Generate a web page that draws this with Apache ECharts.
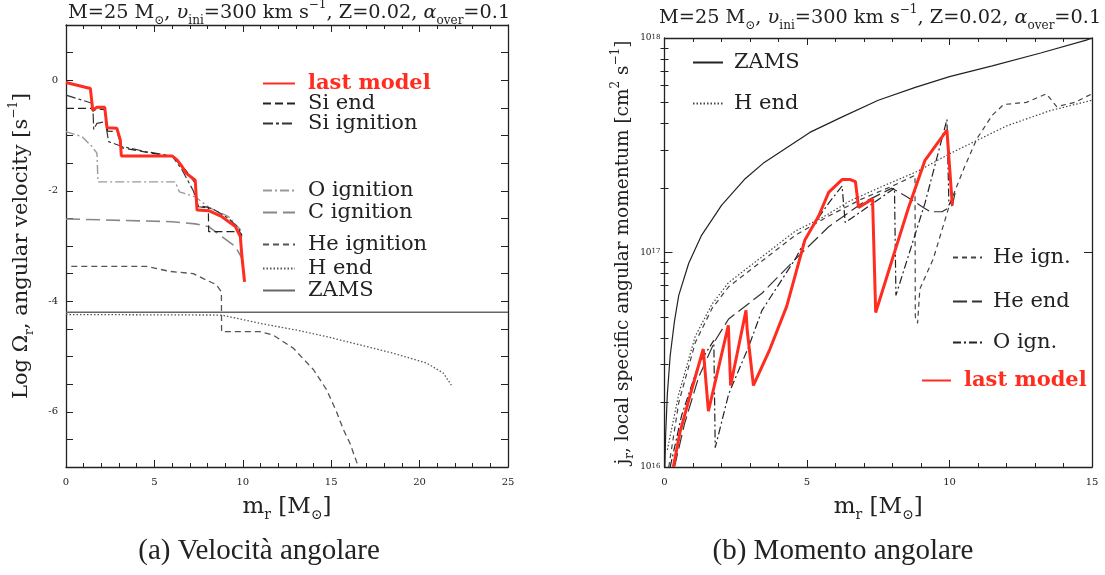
<!DOCTYPE html>
<html><head><meta charset="utf-8">
<script src="https://cdn.jsdelivr.net/npm/echarts@6/dist/echarts.min.js"></script>
<style>html,body{margin:0;padding:0;background:#fff}#c{width:1105px;height:575px}</style>
</head><body><div id="c"></div>
<script>
// ---------- Panel (a): log Omega_r vs m_r ----------
const aLastModel = [[0,-0.04],[1.38,-0.15],[1.51,-0.54],[1.75,-0.49],[2.19,-0.49],[2.32,-0.86],[2.88,-0.87],[3.07,-1.08],[3.13,-1.37],[6.0,-1.37],[6.28,-1.44],[6.56,-1.56],[6.79,-1.68],[7.31,-1.81],[7.41,-2.35],[8.07,-2.36],[8.82,-2.47],[9.58,-2.65],[9.86,-2.83],[9.95,-3.19],[10.1,-3.65]];
const aSiEnd = [[0,-0.51],[1.45,-0.51],[1.52,-0.56],[1.75,-0.52],[2.2,-0.53],[2.36,-0.92],[2.9,-0.93],[3.12,-1.22],[4.5,-1.3],[6.0,-1.38],[6.4,-1.5],[6.8,-1.64],[7.3,-1.86],[7.42,-2.27],[8.05,-2.3],[8.07,-2.74],[9.8,-2.74],[9.95,-2.8]];
const aSiIgn = [[0,-0.27],[1.51,-0.42],[1.57,-0.89],[1.75,-0.78],[2.22,-0.75],[2.41,-1.11],[3.17,-1.2],[4.49,-1.29],[6.0,-1.37],[6.56,-1.62],[7.2,-2.0],[7.5,-2.29],[8.26,-2.32],[9.2,-2.5],[9.77,-2.68],[9.95,-2.83]];
const aOIgn = [[0,-0.93],[0.9,-1.02],[1.47,-1.2],[1.75,-1.32],[1.81,-1.84],[6.18,-1.84],[6.41,-2.02],[7.31,-2.11],[8.07,-2.3],[9.2,-2.47],[9.86,-2.7],[9.95,-2.83]];
const aCIgn = [[0,-2.51],[6.0,-2.56],[7.31,-2.6],[8.07,-2.65],[8.82,-2.83],[9.58,-3.01],[9.95,-3.22]];
const aHeIgn = [[0.3,-3.37],[4.56,-3.37],[5.88,-3.46],[7.2,-3.5],[7.96,-3.62],[8.5,-3.7],[8.79,-3.83],[8.8,-4.55],[10.97,-4.55],[11.7,-4.61],[12.86,-4.85],[14.0,-5.24],[14.74,-5.6],[15.3,-6.0],[15.7,-6.33],[16.06,-6.57],[16.53,-6.99]];
const aHEnd = [[0,-4.24],[8.8,-4.25],[10.97,-4.4],[13.0,-4.52],[14.74,-4.64],[16.5,-4.78],[18.5,-4.94],[20.4,-5.12],[21.34,-5.3],[21.8,-5.52]];
const aZams = [[0,-4.2],[25,-4.2]];

// ---------- Panel (b): j_r (log10 of cm^2 s^-1) vs m_r ----------
const bZamsLog = [[0.01,15.98],[0.04,16.15],[0.1,16.34],[0.2,16.52],[0.35,16.68],[0.5,16.8],[0.85,16.95],[1.3,17.08],[2.0,17.22],[2.8,17.34],[3.5,17.42],[4.3,17.49],[5.1,17.56],[6.2,17.63],[7.5,17.71],[8.8,17.77],[10.0,17.82],[11.5,17.87],[13.2,17.93],[14.8,17.99],[15.0,18.0]];
const bHEndLog = [[0.1,16.08],[0.5,16.34],[1.08,16.61],[1.67,16.76],[2.25,16.86],[3.42,16.98],[4.59,17.1],[5.5,17.16],[6.5,17.24],[7.5,17.3],[8.9,17.38],[10.0,17.46],[12.0,17.59],[13.5,17.66],[15.0,17.71]];
const bHeIgnLog = [[0.15,16.0],[0.5,16.3],[1.08,16.58],[1.67,16.74],[2.25,16.84],[3.42,16.96],[4.59,17.08],[5.76,17.17],[6.93,17.25],[8.0,17.31],[8.79,17.36],[8.8,16.7],[8.88,16.67],[8.96,16.83],[9.43,16.97],[10.02,17.23],[10.5,17.39],[10.96,17.53],[11.5,17.64],[11.9,17.69],[12.7,17.7],[13.4,17.74],[13.76,17.68],[14.4,17.7],[15.0,17.74]];
const bHeEndLog = [[0.35,16.0],[0.7,16.2],[1.2,16.42],[1.78,16.59],[2.25,16.69],[3.42,16.81],[4.6,16.97],[5.76,17.12],[6.93,17.23],[7.98,17.3],[8.5,17.26],[9.08,17.21],[9.32,17.19],[9.74,17.19],[10.1,17.22],[10.2,17.28]];
const bOIgnLog = [[0.2,16.0],[0.6,16.24],[1.2,16.48],[1.73,16.59],[1.78,16.09],[2.25,16.34],[2.95,16.56],[3.42,16.73],[4.59,16.97],[5.18,17.12],[5.76,17.23],[6.23,17.31],[6.34,17.14],[7.0,17.2],[8.07,17.3],[8.12,16.8],[9.14,17.23],[9.91,17.62],[9.98,17.22],[10.1,17.25]];
const bLastModelLog = [[0.31,16.0],[0.54,16.16],[0.89,16.33],[1.36,16.55],[1.54,16.26],[2.24,16.66],[2.32,16.38],[2.86,16.73],[2.9,16.64],[3.12,16.38],[3.7,16.55],[4.29,16.75],[4.93,17.06],[5.41,17.17],[5.76,17.28],[6.23,17.34],[6.52,17.34],[6.7,17.33],[6.81,17.21],[7.3,17.25],[7.41,16.72],[7.95,16.95],[8.54,17.2],[9.14,17.43],[9.91,17.57],[10.1,17.22]];

const bTickDecades = [1e16, 1e17, 1e18];
const bTickMinor = [2e16,3e16,4e16,5e16,6e16,7e16,8e16,9e16,2e17,3e17,4e17,5e17,6e17,7e17,8e17,9e17];

const toLin = arr => arr.map(p => [p[0], Math.pow(10, p[1])]);

const SERIF = 'DejaVu Serif';
const RED = '#ff2d1f';
const richSub = {
  sub: {fontFamily: SERIF, fontSize: 12, lineHeight: 12, verticalAlign: 'bottom', color: '#222'},
  sup: {fontFamily: SERIF, fontSize: 12, lineHeight: 12, verticalAlign: 'top', color: '#222'},
  it: {fontFamily: SERIF, fontStyle: 'italic', color: '#222'}
};

function frameAxis(gridIndex, pos, extra) {
  return Object.assign({
    gridIndex, position: pos, type: 'value',
    axisLine: {show: true, onZero: false, lineStyle: {color: '#222', width: 1.3}},
    axisTick: {show: true, inside: true, length: 7, lineStyle: {color: '#222'}},
    axisLabel: {show: false},
    splitLine: {show: false}
  }, extra);
}

const chart = echarts.init(document.getElementById('c'), null, {renderer: 'canvas'});

const legendBase = (name, left, top, gap, width, red) => ({
  data: [name], left, top, orient: 'vertical', padding: 0, itemGap: 0,
  itemWidth: width, itemHeight: 14, selectedMode: false,
  itemStyle: {opacity: 0},
  formatter: n => n.replace(' (b)', ''),
  textStyle: {fontFamily: SERIF, fontSize: 21, color: red ? RED : '#222', fontWeight: red ? 'bold' : 'normal', padding: [0,0,0,gap]}
});

const titleText = 'M=25 M{sub|⊙}, {it|υ}{sub|ini}=300 km s{sup|−1}, Z=0.02, {it|α}{sub|over}=0.1';

chart.setOption({
  animation: false,
  backgroundColor: '#fff',
  title: [
    {text: titleText, left: 68, top: -1, padding: 0,
     textStyle: {fontFamily: SERIF, fontSize: 19.3, fontWeight: 'normal', color: '#222', lineHeight: 28, rich: richSub}},
    {text: titleText, left: 659, top: 4, padding: 0,
     textStyle: {fontFamily: SERIF, fontSize: 19.3, fontWeight: 'normal', color: '#222', lineHeight: 28, rich: richSub}}
  ],
  graphic: [
    {type: 'text', style: {x: 259, y: 551, text: '(a) Velocità angolare', fontFamily: 'Liberation Serif', fontSize: 29, fill: '#222', textAlign: 'center', textVerticalAlign: 'middle'}},
    {type: 'text', style: {x: 843, y: 551, text: '(b) Momento angolare', fontFamily: 'Liberation Serif', fontSize: 29, fill: '#222', textAlign: 'center', textVerticalAlign: 'middle'}}
  ],
  legend: [
    legendBase('last model', 262, 73, 8, 32, true),
    legendBase('Si end', 262, 93, 8, 32),
    legendBase('Si ignition', 262, 113, 8, 32),
    legendBase('O ignition', 262, 180, 8, 32),
    legendBase('C ignition', 262, 202, 8, 32),
    legendBase('He ignition', 262, 234, 8, 32),
    legendBase('H end', 262, 258, 8, 32),
    legendBase('ZAMS', 262, 280, 8, 32),
    legendBase('ZAMS (b)', 692, 52, 6, 30),
    legendBase('H end (b)', 692, 93, 6, 30),
    legendBase('He ign.', 952, 247, 6, 29),
    legendBase('He end', 952, 291, 6, 29),
    legendBase('O ign.', 952, 332, 6, 29),
    legendBase('last model (b)', 921, 370, 8, 29, true)
  ],
  grid: [
    {left: 66, top: 25, width: 442, height: 442, containLabel: false},
    {left: 664.5, top: 38, width: 427.5, height: 429, containLabel: false}
  ],
  xAxis: [
    frameAxis(0, 'bottom', {min: 0, max: 25, interval: 5,
      minorTick: {show: true, splitNumber: 5, length: 4, lineStyle: {color: '#222'}},
      axisLabel: {show: true, fontFamily: SERIF, fontSize: 10, color: '#222', margin: 10},
      name: 'm{sub|r} [M{sub|⊙}]', nameLocation: 'middle', nameGap: 24,
      nameTextStyle: {fontFamily: SERIF, fontSize: 23, color: '#222', lineHeight: 30, rich: {sub: {fontFamily: SERIF, fontSize: 14, lineHeight: 14, verticalAlign: 'bottom', color: '#222'}}}}),
    frameAxis(0, 'top', {min: 0, max: 25, interval: 5,
      minorTick: {show: true, splitNumber: 5, length: 4, lineStyle: {color: '#222'}}}),
    frameAxis(1, 'bottom', {min: 0, max: 15, interval: 5,
      minorTick: {show: true, splitNumber: 5, length: 4, lineStyle: {color: '#222'}},
      axisLabel: {show: true, fontFamily: SERIF, fontSize: 10, color: '#222', margin: 10},
      name: 'm{sub|r} [M{sub|⊙}]', nameLocation: 'middle', nameGap: 24,
      nameTextStyle: {fontFamily: SERIF, fontSize: 23, color: '#222', lineHeight: 30, rich: {sub: {fontFamily: SERIF, fontSize: 14, lineHeight: 14, verticalAlign: 'bottom', color: '#222'}}}}),
    frameAxis(1, 'top', {min: 0, max: 15, interval: 5,
      minorTick: {show: true, splitNumber: 5, length: 4, lineStyle: {color: '#222'}}})
  ],
  yAxis: [
    frameAxis(0, 'left', {min: -7, max: 1, interval: 0.5,
      axisTick: {show: true, inside: true, length: 7, lineStyle: {color: '#222'}},
      axisLabel: {show: true, fontFamily: SERIF, fontSize: 10, color: '#222', margin: 8,
        formatter: v => (Math.abs(v % 2) < 1e-9 ? String(v) : '')},
      name: 'Log Ω{sub|r}, angular velocity [s{sup|−1}]', nameLocation: 'middle', nameGap: 30,
      nameTextStyle: {fontFamily: SERIF, fontSize: 21, color: '#222', lineHeight: 28, rich: richSub}}),
    frameAxis(0, 'right', {min: -7, max: 1, interval: 0.5}),
    frameAxis(1, 'left', {type: 'log', logBase: 10, min: 1e16, max: 1e18,
      axisTick: {show: true, inside: true, length: 8, lineStyle: {color: '#222'}},
      axisLabel: {show: true, fontFamily: SERIF, fontSize: 9, color: '#222', margin: 4,
        formatter: v => '10{sup|' + Math.round(Math.log10(v)) + '}',
        rich: {sup: {fontFamily: SERIF, fontSize: 7, lineHeight: 7, verticalAlign: 'top', color: '#222'}}},
      name: 'j{sub|r}, local specific angular momentum [cm{sup|2} s{sup|−1}]', nameLocation: 'middle', nameGap: 20,
      nameTextStyle: {fontFamily: SERIF, fontSize: 18.5, color: '#222', lineHeight: 26, rich: richSub}}),
    frameAxis(1, 'left', {type: 'log', logBase: 10, min: 1e16, max: 1e18,
      axisLine: {show: false},
      axisTick: {show: true, inside: true, length: 4, customValues: bTickMinor, lineStyle: {color: '#222'}}}),
    frameAxis(1, 'right', {type: 'log', logBase: 10, min: 1e16, max: 1e18,
      axisTick: {show: true, inside: true, length: 8, customValues: bTickDecades, lineStyle: {color: '#222'}}}),
    frameAxis(1, 'right', {type: 'log', logBase: 10, min: 1e16, max: 1e18,
      axisLine: {show: false},
      axisTick: {show: true, inside: true, length: 4, customValues: bTickMinor, lineStyle: {color: '#222'}}})
  ],
  series: [
    {name: 'ZAMS', type: 'line', xAxisIndex: 0, yAxisIndex: 0, data: aZams, symbol: 'none', lineStyle: {color: '#666', width: 1.5, type: 'solid'}, itemStyle: {color: '#666'}},
    {name: 'H end', type: 'line', xAxisIndex: 0, yAxisIndex: 0, data: aHEnd, symbol: 'none', lineStyle: {color: '#555', width: 1.3, type: [1.5, 2]}, itemStyle: {color: '#555'}},
    {name: 'He ignition', type: 'line', xAxisIndex: 0, yAxisIndex: 0, data: aHeIgn, symbol: 'none', lineStyle: {color: '#555', width: 1.3, type: [6, 4]}, itemStyle: {color: '#555'}},
    {name: 'C ignition', type: 'line', xAxisIndex: 0, yAxisIndex: 0, data: aCIgn, symbol: 'none', lineStyle: {color: '#888', width: 1.6, type: [14, 6]}, itemStyle: {color: '#888'}},
    {name: 'O ignition', type: 'line', xAxisIndex: 0, yAxisIndex: 0, data: aOIgn, symbol: 'none', lineStyle: {color: '#999', width: 1.4, type: [9, 3, 2, 3]}, itemStyle: {color: '#999'}},
    {name: 'Si ignition', type: 'line', xAxisIndex: 0, yAxisIndex: 0, data: aSiIgn, symbol: 'none', lineStyle: {color: '#333', width: 1.2, type: [10, 3, 3, 3]}, itemStyle: {color: '#333'}},
    {name: 'Si end', type: 'line', xAxisIndex: 0, yAxisIndex: 0, data: aSiEnd, symbol: 'none', lineStyle: {color: '#222', width: 1.2, type: [8, 4]}, itemStyle: {color: '#222'}},
    {name: 'last model', type: 'line', xAxisIndex: 0, yAxisIndex: 0, data: aLastModel, symbol: 'none', lineStyle: {color: RED, width: 3}, itemStyle: {color: RED}},

    {name: 'ZAMS (b)', type: 'line', xAxisIndex: 2, yAxisIndex: 2, data: toLin(bZamsLog), symbol: 'none', lineStyle: {color: '#222', width: 1.2}, itemStyle: {color: '#222'}},
    {name: 'H end (b)', type: 'line', xAxisIndex: 2, yAxisIndex: 2, data: toLin(bHEndLog), symbol: 'none', lineStyle: {color: '#444', width: 1.2, type: [1.5, 2]}, itemStyle: {color: '#444'}},
    {name: 'He ign.', type: 'line', xAxisIndex: 2, yAxisIndex: 2, data: toLin(bHeIgnLog), symbol: 'none', lineStyle: {color: '#444', width: 1.2, type: [5, 4]}, itemStyle: {color: '#444'}},
    {name: 'He end', type: 'line', xAxisIndex: 2, yAxisIndex: 2, data: toLin(bHeEndLog), symbol: 'none', lineStyle: {color: '#333', width: 1.2, type: [14, 5]}, itemStyle: {color: '#333'}},
    {name: 'O ign.', type: 'line', xAxisIndex: 2, yAxisIndex: 2, data: toLin(bOIgnLog), symbol: 'none', lineStyle: {color: '#222', width: 1.2, type: [8, 3, 2, 3]}, itemStyle: {color: '#222'}},
    {name: 'last model (b)', type: 'line', xAxisIndex: 2, yAxisIndex: 2, data: toLin(bLastModelLog), symbol: 'none', lineStyle: {color: RED, width: 3}, itemStyle: {color: RED}}
  ]
});
</script>
</body></html>
